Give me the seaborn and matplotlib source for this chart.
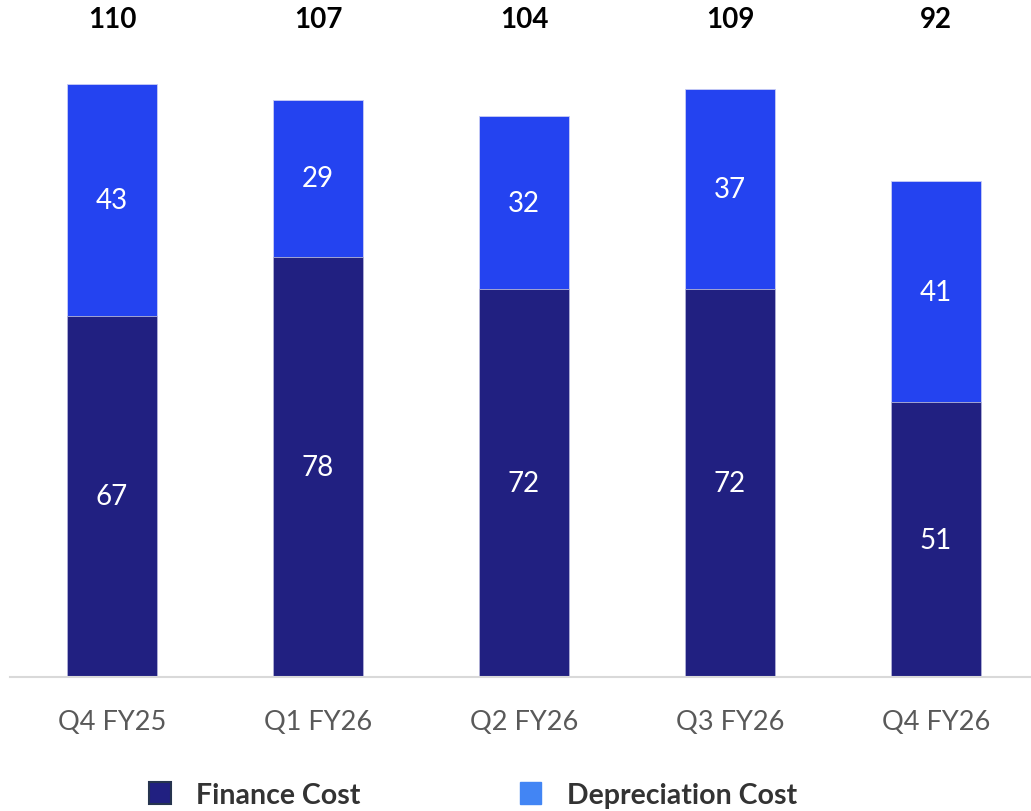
import matplotlib
matplotlib.use("Agg")
import matplotlib.pyplot as plt
from matplotlib.patches import Patch
import seaborn as sns
import pandas as pd

quarters = ["Q4 FY25", "Q1 FY26", "Q2 FY26", "Q3 FY26", "Q4 FY26"]
finance_cost = [67, 78, 72, 72, 51]
depreciation_cost = [43, 29, 32, 37, 41]
totals = [110, 107, 104, 109, 92]

NAVY = "#212081"
BLUE = "#2443F0"
TICK_GREY = "#595959"
TEXT_DARK = "#333333"

sns.set_theme(style="white")
plt.rcParams["font.family"] = ["Lato", "DejaVu Sans"]

df = pd.DataFrame({
    "quarter": quarters,
    "finance": finance_cost,
    "depreciation": depreciation_cost,
    "total": [f + d for f, d in zip(finance_cost, depreciation_cost)],
})

fig = plt.figure(figsize=(10.31, 8.12), dpi=100)
W, H = 1031, 812
ax = fig.add_axes([10 / W, 1 - 678 / H, 1 - 10 / W, (678 - 10) / H])

# stacked bars: full height in the depreciation colour, finance on top of it
sns.barplot(data=df, x="quarter", y="total", color=BLUE, width=0.44,
            edgecolor="#c9cdf5", linewidth=0.6, saturation=1, ax=ax)
sns.barplot(data=df, x="quarter", y="finance", color=NAVY, width=0.44,
            edgecolor="#b7b7d8", linewidth=0.6, saturation=1, ax=ax)

px_per_unit = 593 / 110
ax.set_ylim(0, 668 / px_per_unit)
ax.set_xlim(-(112 - 10) / 206, 4 + (1031 - 936) / 206)

for i, (f, d, t) in enumerate(zip(finance_cost, depreciation_cost, totals)):
    ax.text(i, f / 2, f"{f}", ha="center", va="center", color="white", fontsize=20)
    ax.text(i, f + d / 2, f"{d}", ha="center", va="center", color="white", fontsize=20)
    ax.text(i, (678 - 20) / px_per_unit, f"{t}", ha="center", va="center",
            color="black", fontsize=20, fontweight="bold")

ax.set_xlabel("")
ax.set_ylabel("")
ax.set_yticks([])
for s in ["top", "left", "right"]:
    ax.spines[s].set_visible(False)
ax.spines["bottom"].set_color("#d9d9d9")
ax.spines["bottom"].set_linewidth(1.5)
ax.tick_params(axis="x", length=0, pad=23, labelsize=19.5, labelcolor=TICK_GREY)

handles = [
    Patch(facecolor=NAVY, edgecolor="#26344f", linewidth=1.5, label="Finance Cost"),
    Patch(facecolor="#4285F4", edgecolor="#4285F4", label="Depreciation Cost"),
]
leg = fig.legend(handles=handles, loc="center", bbox_to_anchor=(0.459, 0.02),
                 ncol=2, frameon=False, handlelength=0.75, handleheight=0.85,
                 handletextpad=0.9, columnspacing=5.6,
                 prop={"family": ["Lato", "DejaVu Sans"], "weight": "bold", "size": 20.5})
for t in leg.get_texts():
    t.set_color(TEXT_DARK)

fig.savefig("out.png", dpi=100)
